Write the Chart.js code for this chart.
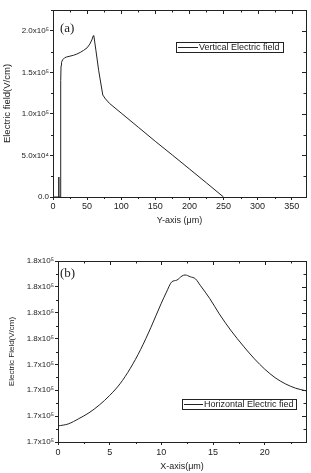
<!DOCTYPE html>
<html>
<head>
<meta charset="utf-8">
<script src="https://cdn.jsdelivr.net/npm/chart.js@4"></script>
<style>
body { margin: 0; background: #fff; width: 311px; height: 473px; overflow: hidden; position: relative; }
canvas { position: absolute; left: 0; }
#fieldTop { top: 0; }
#fieldBottom { top: 240px; }
</style>
</head>
<body>
<canvas id="fieldTop" width="311" height="232"></canvas>
<canvas id="fieldBottom" width="311" height="233"></canvas>
<script>
// (a) vertical electric field along Y
var yAxisUm = [0, 8.3, 8.3, 8.7, 8.7, 10.9, 11.3, 11.8, 12.5, 14, 17, 20, 25, 30, 35, 40, 45, 50, 54, 57, 59, 60, 63, 67, 73, 77, 83, 100, 125, 150, 175, 200, 225, 250];
var vertField = [0, 0, 24000, 24000, 0, 0, 140000, 158000, 162000, 165000, 167500, 168500, 169500, 170500, 172000, 174000, 176500, 179500, 184000, 189000, 194000, 193500, 176000, 152000, 122700, 118000, 112500, 101000, 84000, 67000, 50500, 33800, 17000, 0];
var xTicksTop = [0, 50, 100, 150, 200, 250, 300, 350];
var xMinorTop = [25, 75, 125, 175, 225, 275, 325];
var yTicksTop = [0, 50000, 100000, 150000, 200000];
var yMinorTop = [25000, 75000, 125000, 175000, 225000];

// (b) horizontal electric field along X
var xAxisUm = [0, 1, 2, 3, 4, 5, 6, 7, 8, 9, 10, 10.5, 11, 11.5, 12, 12.3, 12.8, 13.3, 13.8, 14.7, 15.6, 16.7, 18, 19, 20, 21, 22, 23, 24];
var horizField = [171620, 171700, 171900, 172130, 172430, 172800, 173250, 173850, 174580, 175440, 176370, 176800, 177190, 177260, 177420, 177460, 177390, 177310, 177040, 176540, 175960, 175330, 174680, 174220, 173820, 173490, 173250, 173080, 172980];
var xTicksBot = [0, 5, 10, 15, 20];
var xMinorBot = [2.5, 7.5, 12.5, 17.5, 22.5];
var yTicksBot = [171000, 172000, 173000, 174000, 175000, 176000, 177000, 178000];
var yMinorBot = [171500, 172500, 173500, 174500, 175500, 176500, 177500];

var ink = '#222';
var sup = { '0': '⁰', '1': '¹', '2': '²', '3': '³', '4': '⁴', '5': '⁵', '6': '⁶', '7': '⁷', '8': '⁸', '9': '⁹', '-': '⁻' };

function sciLabel(v) {
    if (v === 0) return '0.0';
    var e = Math.floor(Math.log10(v));
    var m = v / Math.pow(10, e);
    return m.toFixed(1) + 'x10' + String(e).split('').map(function (c) { return sup[c]; }).join('');
}

function toPoints(xs, ys) {
    return xs.map(function (x, i) { return { x: x, y: ys[i] }; });
}

var framePlugin = {
    id: 'frame',
    afterDraw: function (chart, args, o) {
        var ctx = chart.ctx, a = chart.chartArea;
        var xs = chart.scales.x, ys = chart.scales.y;
        ctx.save();
        ctx.strokeStyle = ink;
        ctx.lineWidth = 1;
        ctx.strokeRect(a.left + 0.5, a.top + 0.5, a.right - a.left, a.bottom - a.top);
        ctx.beginPath();
        o.xMajor.forEach(function (v) {
            var p = Math.round(xs.getPixelForValue(v)) + 0.5;
            ctx.moveTo(p, a.top); ctx.lineTo(p, a.top + 4);
        });
        o.xMinor.forEach(function (v) {
            var p = Math.round(xs.getPixelForValue(v)) + 0.5;
            ctx.moveTo(p, a.top); ctx.lineTo(p, a.top + 2.5);
            ctx.moveTo(p, a.bottom); ctx.lineTo(p, a.bottom + 2);
        });
        o.yMajor.forEach(function (v) {
            var p = Math.round(ys.getPixelForValue(v)) + 0.5;
            ctx.moveTo(a.right, p); ctx.lineTo(a.right - 4, p);
        });
        o.yMinor.forEach(function (v) {
            var p = Math.round(ys.getPixelForValue(v)) + 0.5;
            ctx.moveTo(a.right, p); ctx.lineTo(a.right - 2.5, p);
            ctx.moveTo(a.left, p); ctx.lineTo(a.left - 2, p);
        });
        ctx.stroke();

        // panel tag
        ctx.fillStyle = ink;
        ctx.font = '13px "Liberation Serif", "Times New Roman", serif';
        ctx.textBaseline = 'alphabetic';
        ctx.fillText(o.tag, o.tagX, o.tagY);

        // legend box
        var L = o.legend;
        ctx.strokeRect(L.x + 0.5, L.y + 0.5, L.w, L.h);
        ctx.beginPath();
        ctx.moveTo(L.x + 2, L.y + L.h / 2 + 0.5);
        ctx.lineTo(L.x + L.line, L.y + L.h / 2 + 0.5);
        ctx.stroke();
        ctx.font = '9px "Liberation Sans", Arial, sans-serif';
        ctx.textBaseline = 'middle';
        ctx.fillText(chart.data.datasets[0].label, L.x + L.line + 1, L.y + L.h / 2 + 1);
        ctx.restore();
    }
};

function makeChart(id, o) {
    return new Chart(document.getElementById(id).getContext('2d'), {
        type: 'scatter',
        data: {
            datasets: [{
                label: o.label,
                data: o.points,
                showLine: true,
                borderColor: ink,
                borderWidth: 1,
                pointRadius: 0,
                cubicInterpolationMode: o.smooth ? 'monotone' : 'default',
                tension: 0
            }]
        },
        options: {
            responsive: false,
            animation: false,
            devicePixelRatio: 1,
            layout: { padding: { left: 0, right: 5, top: o.padTop, bottom: 0 } },
            plugins: {
                legend: { display: false },
                tooltip: { enabled: false },
                frame: o.frame
            },
            scales: {
                x: {
                    type: 'linear',
                    min: o.xMin, max: o.xMax,
                    afterBuildTicks: function (s) { s.ticks = o.xTicks.map(function (v) { return { value: v }; }); },
                    afterFit: function (s) { s.height = o.xHeight; },
                    ticks: {
                        autoSkip: false, maxRotation: 0, padding: o.xTickPad, color: ink,
                        font: { family: '"Liberation Sans", Arial, sans-serif', size: 9 },
                        callback: function (v) { return String(v); }
                    },
                    grid: { drawOnChartArea: false, tickLength: 3, color: ink },
                    border: { color: ink },
                    title: {
                        display: true, text: o.xTitle, color: ink,
                        font: { family: '"Liberation Sans", Arial, sans-serif', size: 9 },
                        padding: { top: 0, bottom: o.xTitlePad }
                    }
                },
                y: {
                    type: 'linear',
                    min: o.yMin, max: o.yMax,
                    afterBuildTicks: function (s) { s.ticks = o.yTicks.map(function (v) { return { value: v }; }); },
                    afterFit: function (s) { s.width = o.yWidth; },
                    ticks: {
                        autoSkip: false, padding: 1, color: ink,
                        font: { family: '"Liberation Sans", Arial, sans-serif', size: 8 },
                        callback: function (v) { return sciLabel(v); }
                    },
                    grid: { drawOnChartArea: false, tickLength: 3, color: ink },
                    border: { color: ink },
                    title: {
                        display: true, text: o.yTitle, color: ink,
                        font: { family: '"Liberation Sans", Arial, sans-serif', size: o.yTitleSize },
                        padding: { top: o.yTitlePad, bottom: 0 }
                    }
                }
            }
        },
        plugins: [framePlugin]
    });
}

var topChart = makeChart('fieldTop', {
    label: 'Vertical Electric field',
    points: toPoints(yAxisUm, vertField),
    smooth: false,
    padTop: 10, xHeight: 35, yWidth: 53,
    xMin: 0, xMax: 371, yMin: 0, yMax: 225000,
    xTicks: xTicksTop, yTicks: yTicksTop,
    xTickPad: 1, xTitle: 'Y-axis (μm)', xTitlePad: 6.5,
    yTitle: 'Electric field(V/cm)', yTitleSize: 9.5, yTitlePad: 1.6,
    frame: {
        xMajor: xTicksTop, xMinor: xMinorTop, yMajor: yTicksTop, yMinor: yMinorTop,
        tag: '(a)', tagX: 60, tagY: 32,
        legend: { x: 176, y: 42, w: 107, h: 10, line: 22 }
    }
});

var bottomChart = makeChart('fieldBottom', {
    label: 'Horizontal Electric fied',
    points: toPoints(xAxisUm, horizField),
    smooth: true,
    padTop: 21, xHeight: 31, yWidth: 58,
    xMin: 0, xMax: 24, yMin: 171000, yMax: 178000,
    xTicks: xTicksBot, yTicks: yTicksBot,
    xTickPad: 2, xTitle: 'X-axis(μm)', xTitlePad: 1,
    yTitle: 'Electric Field(V/cm)', yTitleSize: 8, yTitlePad: 7,
    frame: {
        xMajor: xTicksBot, xMinor: xMinorBot, yMajor: yTicksBot, yMinor: yMinorBot,
        tag: '(b)', tagX: 60, tagY: 37,
        legend: { x: 182, y: 159, w: 114, h: 10, line: 21 }
    }
});
</script>
</body>
</html>
